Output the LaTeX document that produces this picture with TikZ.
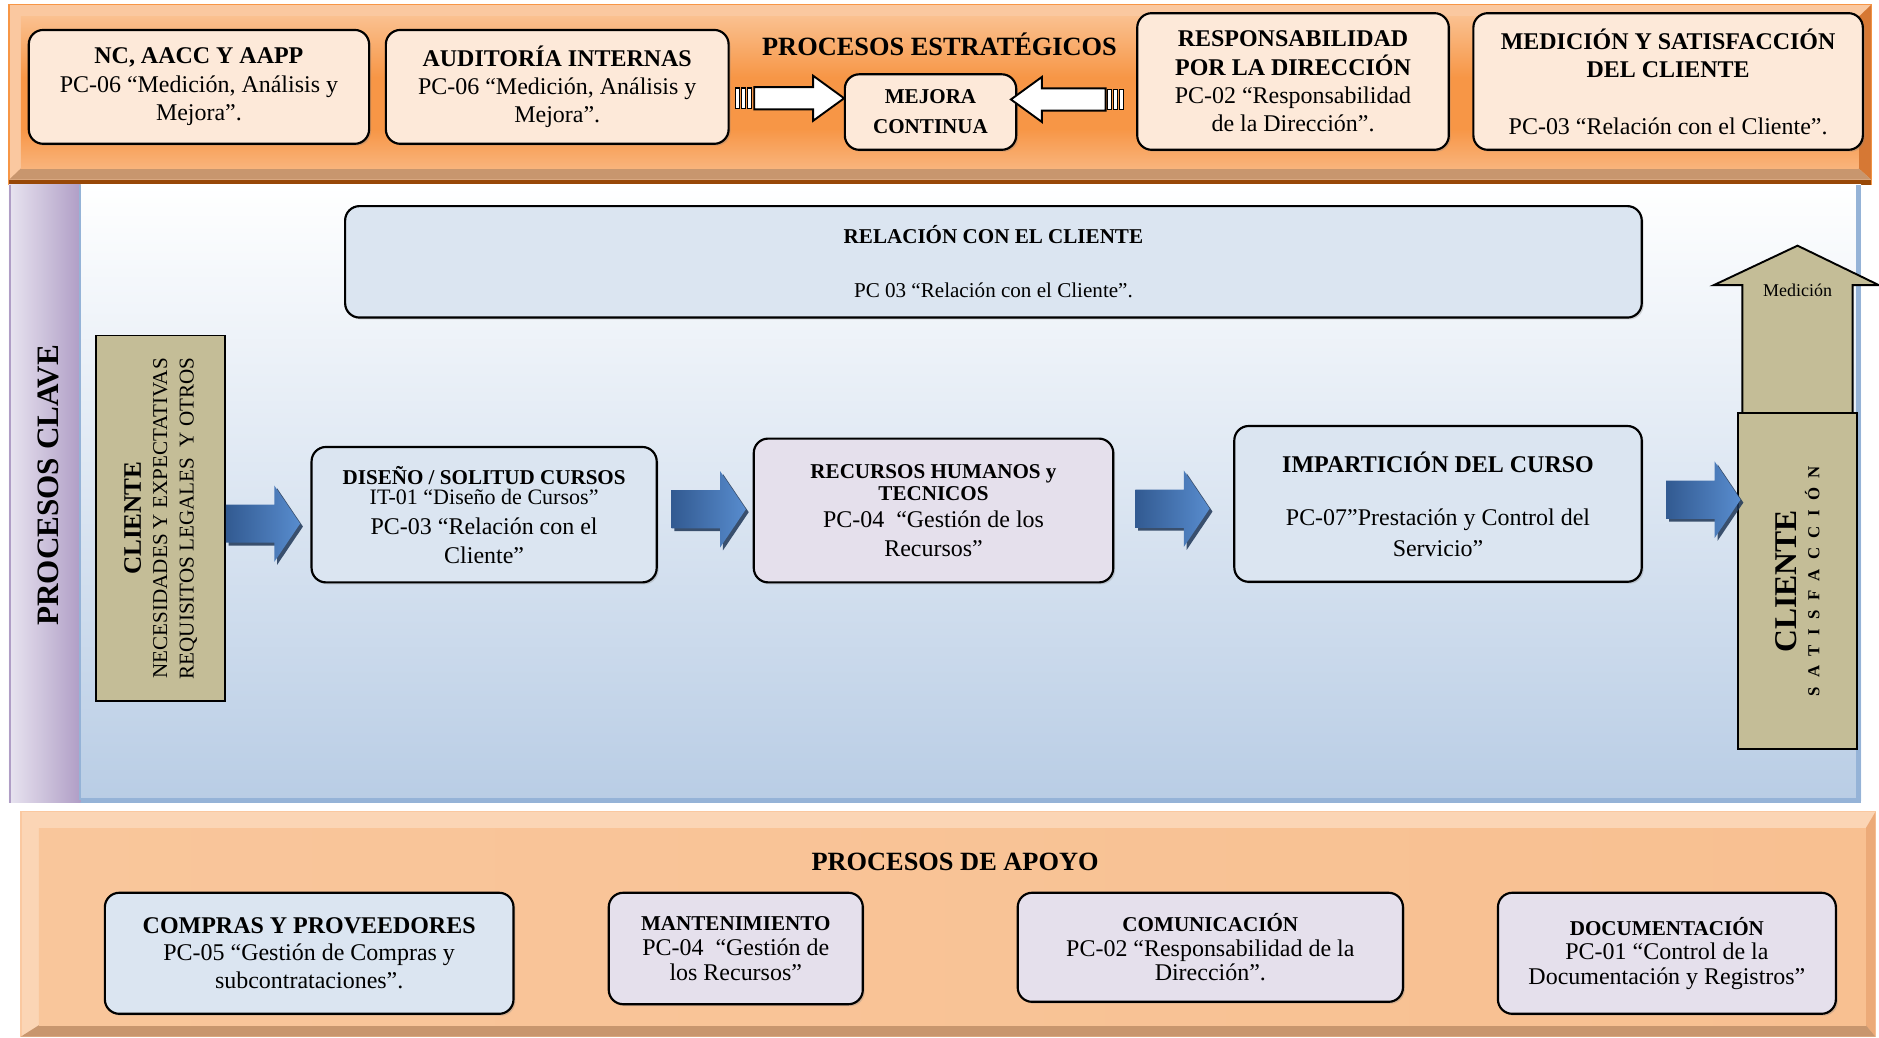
\documentclass[tikz,border=0pt]{standalone}
\usepackage{fontspec}
\setmainfont{Liberation Serif}
\newfontfamily\trackfont{Liberation Serif}[LetterSpace=31]
\usepackage{tikz}
\usetikzlibrary{shapes.arrows, shadows, calc}
\definecolor{bandpeach}{RGB}{250,200,160}
\definecolor{bandtop}{RGB}{250,192,143}
\definecolor{bandorange}{RGB}{247,150,70}
\definecolor{bandlow}{RGB}{249,180,124}
\definecolor{bandtan}{RGB}{200,150,110}
\definecolor{bandside}{RGB}{214,120,52}
\definecolor{bandrim}{RGB}{152,72,7}
\definecolor{apoyorim}{RGB}{251,213,181}
\definecolor{apoyoside}{RGB}{236,170,120}
\definecolor{apoyoleft}{RGB}{249,198,155}
\definecolor{apoyoright}{RGB}{248,192,145}
\definecolor{apoyopale}{RGB}{253,234,220}
\definecolor{peachbox}{RGB}{253,233,217}
\definecolor{paleblue}{RGB}{219,229,241}
\definecolor{lilac}{RGB}{229,224,236}
\definecolor{khaki}{RGB}{196,189,151}
\definecolor{keysky}{RGB}{185,205,229}
\definecolor{keyrim}{RGB}{149,179,215}
\definecolor{stripviolet}{RGB}{176,158,198}
\definecolor{strippale}{RGB}{232,228,240}
\definecolor{flowblue}{RGB}{88,140,206}
\definecolor{flowdark}{RGB}{50,90,145}
\pgfdeclareverticalshading{stratface}{100bp}{color(0bp)=(bandlow); color(25bp)=(bandlow);
  color(38bp)=(bandorange); color(55bp)=(bandorange); color(75bp)=(bandtop); color(100bp)=(bandtop)}
\newcommand{\boxhead}[1]{{\fontsize{8.8}{9}\selectfont\bfseries #1}}
\tikzset{
  procbox/.style={draw=black, line width=0.9pt, rounded corners=6pt, align=center,
                  inner sep=2pt, font=\fontsize{10}{11.8}\selectfont,
                  drop shadow={shadow xshift=0.8pt, shadow yshift=-0.8pt, opacity=0.3}},
  stratbox/.style={procbox, fill=peachbox},
  keybox/.style={procbox, fill=paleblue},
  lilacbox/.style={procbox, fill=lilac},
  khakishape/.style={draw=black, line width=0.8pt, fill=khaki},
  clientbox/.style={khakishape, align=center, inner sep=2pt},
  flowarrow/.style={single arrow, single arrow head extend=8pt, single arrow tip angle=112,
                    minimum height=31pt, minimum width=1pt, inner xsep=0pt, inner ysep=7.75pt,
                    left color=flowdark, right color=flowblue,
                    drop shadow={shadow xshift=1.2pt, shadow yshift=-1.2pt, fill=flowdark!60!black, opacity=0.85}},
  hollowarrow/.style={single arrow, draw=black, line width=0.8pt, fill=white,
                      single arrow head extend=4.75pt, single arrow tip angle=72,
                      minimum width=1pt, inner xsep=0pt, inner ysep=4.25pt},
  tailbar/.style={draw=black, line width=0.5pt, fill=white},
  bandtitle/.style={font=\fontsize{11}{13}\selectfont\bfseries},
}
\begin{document}
\begin{tikzpicture}[x=0.5pt, y=-0.5pt]
\useasboundingbox (0,0) rectangle (1568,866);

\fill[bandpeach, draw=bandorange, line width=0.5pt] (7.5,4) rectangle (1561.5,154);
\fill[bandside] (1561.5,4) -- (1561.5,150) -- (1551,140.5) -- (1551,14) -- cycle;
\fill[bandtan] (7.5,150) -- (1561.5,150) -- (1551,140.5) -- (17.5,140.5) -- cycle;
\shade[shading=stratface] (17.5,14) rectangle (1551,140.5);
\fill[bandrim] (7.5,150) rectangle (1561.5,154);

\shade[top color=white, bottom color=keysky] (67,154) rectangle (1553,668);
\draw[keyrim, line width=2pt] (1551,154) -- (1551,668) -- (67,668);
\shade[left color=strippale, right color=stripviolet] (7.5,154) rectangle (67,670);
\draw[stripviolet, line width=0.8pt] (8,154) -- (8,670);
\draw[keyrim, line width=0.8pt] (67,154) -- (67,668);

\fill[apoyorim, draw=bandpeach, line width=0.5pt] (17.5,677.5) rectangle (1565,865);
\fill[apoyoside] (1565,677.5) -- (1565,865) -- (1557,855.5) -- (1557,691) -- cycle;
\fill[bandtan] (17.5,865) -- (1565,865) -- (1557,855.5) -- (32.5,855.5) -- cycle;
\shade[left color=apoyoleft, middle color=apoyopale, right color=apoyoright] (32.5,691) rectangle (1557,855.5);

\node[bandtitle] (estr) at (784,37) {PROCESOS ESTRATÉGICOS};
\node[stratbox, minimum width=142pt, minimum height=47.5pt] (nc) at (166,72.5)
  {\textbf{NC, AACC Y AAPP}\\PC-06 “Medición, Análisis y\\Mejora”.};
\node[stratbox, minimum width=143pt, minimum height=47.5pt] (audit) at (465,72.5)
  {\textbf{AUDITORÍA INTERNAS}\\PC-06 “Medición, Análisis y\\Mejora”.};
\node[stratbox, minimum width=71.5pt, minimum height=31.5pt] (mejora) at (776.5,93.5)
  {\boxhead{MEJORA}\\[0.7pt]\boxhead{CONTINUA}};
\node[stratbox, minimum width=130pt, minimum height=57pt] (resp) at (1079,68)
  {\textbf{RESPONSABILIDAD}\\\textbf{POR LA DIRECCIÓN}\\PC-02 “Responsabilidad\\de la Dirección”.};
\node[stratbox, minimum width=162.5pt, minimum height=57pt] (medsat) at (1392,68)
  {\textbf{MEDICIÓN Y SATISFACCIÓN}\\\textbf{DEL CLIENTE}\\[11.8pt]PC-03 “Relación con el Cliente”.};

\node[hollowarrow, minimum height=37.5pt] (toright) at (660.5,82) {};
\node[hollowarrow, minimum height=39.5pt, shape border rotate=180] (toleft) at (889.5,83) {};
\foreach \i in {0,1,2} {
  \draw[tailbar] ($(toright.tail)+(-15+5*\i,-8.5)$) rectangle ++(3.5,17);
  \draw[tailbar] ($(toleft.tail)+(0.5+5*\i,-8.5)$) rectangle ++(3.5,17);
}

\node[rotate=90, font=\fontsize{13}{14}\selectfont\bfseries] (clave) at (40,405) {PROCESOS CLAVE};
\node[keybox, minimum width=541pt, minimum height=46.5pt, font=\fontsize{8.8}{10.5}\selectfont] (rel) at (829,218.5)
  {\textbf{RELACIÓN CON EL CLIENTE}\\[12pt]PC 03 “Relación con el Cliente”.};

\node[clientbox, rotate=90, minimum width=152.5pt, minimum height=54pt, font=\fontsize{8.8}{11}\selectfont] (cin) at (134,432.5)
  {{\fontsize{10.5}{11}\selectfont\bfseries CLIENTE}\\NECESIDADES Y EXPECTATIVAS\\REQUISITOS LEGALES \ Y OTROS};
\node[keybox, minimum width=144pt, minimum height=56.5pt] (dis) at (404,429.5)
  {\boxhead{DISEÑO / SOLITUD CURSOS}\\[-3.2pt]{\fontsize{9.2}{9}\selectfont IT-01 “Diseño de Cursos”}\\[0.7pt]PC-03 “Relación con el\\Cliente”};
\node[lilacbox, minimum width=150pt, minimum height=60pt] (rec) at (779,426)
  {\boxhead{RECURSOS HUMANOS y}\\[-2.8pt]\boxhead{TECNICOS}\\[-0.3pt]PC-04 \ “Gestión de los\\Recursos”};
\node[keybox, minimum width=170pt, minimum height=65pt] (imp) at (1200,420.5)
  {\textbf{IMPARTICIÓN DEL CURSO}\\[10.5pt]PC-07”Prestación y Control del\\[0.9pt]Servicio”};

\draw[khakishape] (1454,345) -- (1454,238) -- (1430,238) -- (1500,205) -- (1568,238) -- (1546,238) -- (1546,345) -- cycle;
\node[clientbox, rotate=90, minimum width=140pt, minimum height=50pt, font=\fontsize{13.2}{12}\selectfont\bfseries] (csat) at (1500,485)
  {CLIENTE\\[-2.5pt]{\trackfont\fontsize{7}{7}\selectfont S A T I S F A C C I Ó N}};
\node[font=\fontsize{7.5}{8}\selectfont] (medlbl) at ($(csat.east)+(0,-102)$) {Medición};

\node[flowarrow, anchor=tail] (f1) at (188,437) {};
\node[flowarrow, anchor=tail] (f2) at (560,425) {};
\node[flowarrow, anchor=tail] (f3) at (947,424.5) {};
\node[flowarrow, anchor=tail] (f4) at (1390,417) {};

\node[bandtitle] (apoyo) at (797,719) {PROCESOS DE APOYO};
\node[keybox, minimum width=170.5pt, minimum height=50.5pt] (compras) at (258,795.5)
  {\textbf{COMPRAS Y PROVEEDORES}\\[-0.3pt]PC-05 “Gestión de Compras y\\subcontrataciones”.};
\node[lilacbox, minimum width=106pt, minimum height=46.5pt] (mant) at (614,791.5)
  {\boxhead{MANTENIMIENTO}\\[-1.5pt]PC-04 \ “Gestión de\\[-1.5pt]los Recursos”};
\node[lilacbox, minimum width=160.75pt, minimum height=45.5pt] (comun) at (1010,790.5)
  {\boxhead{COMUNICACIÓN}\\[-1.5pt]PC-02 “Responsabilidad de la\\[-1.5pt]Dirección”.};
\node[lilacbox, minimum width=141pt, minimum height=50.5pt] (docu) at (1391,795.5)
  {\boxhead{DOCUMENTACIÓN}\\[-1.5pt]PC-01 “Control de la\\[-1.5pt]Documentación y Registros”};
\end{tikzpicture}
\end{document}
